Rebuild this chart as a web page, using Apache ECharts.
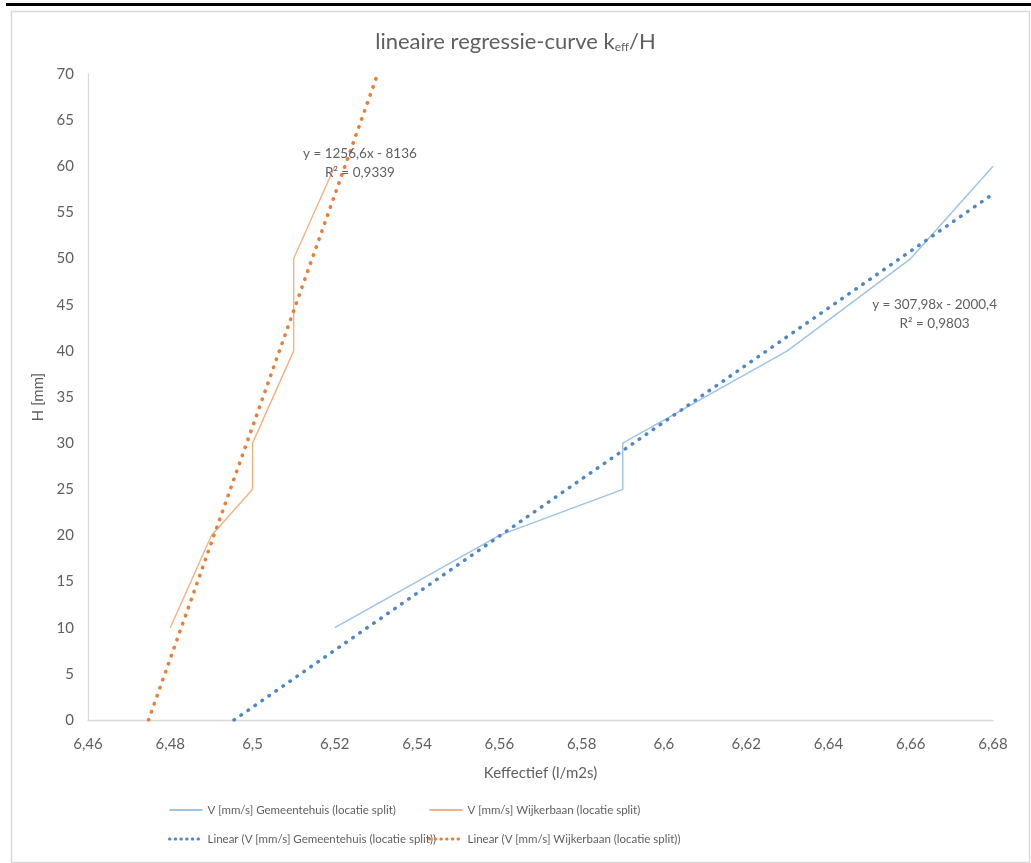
<!DOCTYPE html>
<html>
<head>
<meta charset="utf-8">
<script src="https://cdn.jsdelivr.net/npm/echarts@6/dist/echarts.min.js"></script>
<style>
html,body{margin:0;padding:0;background:#fff;}
#chart{width:1031px;height:863px;}
</style>
</head>
<body>
<div id="chart"></div>
<script>
// ---- data ----
const gemeentehuis = [[6.52,10],[6.54,15],[6.56,20],[6.59,25],[6.59,30],[6.63,40],[6.66,50],[6.68,60]];
const wijkerbaan   = [[6.48,10],[6.49,20],[6.50,25],[6.50,30],[6.51,40],[6.51,50],[6.52,60]];
// trendline end points as drawn in the reference
const trendGemeentehuis = [[6.4955,0],[6.68,57]];
const trendWijkerbaan   = [[6.4747,0],[6.5304,70]];
// trendline label texts and their anchor positions (data space)
const eqGemeentehuis = ['y = 307,98x - 2000,4', 'R² = 0,9803'];
const eqGemeentehuisAt = [6.6658, 44.0];
const eqWijkerbaan = ['y = 1256,6x - 8136', 'R² = 0,9339'];
const eqWijkerbaanAt = [6.5261, 60.3];

const names = [
  'V [mm/s] Gemeentehuis (locatie split)',
  'V [mm/s] Wijkerbaan (locatie split)',
  'Linear (V [mm/s] Gemeentehuis (locatie split))',
  'Linear (V [mm/s] Wijkerbaan (locatie split))'
];

const FONT = 'Lato, "Open Sans", sans-serif';
const TXT = '#5f5f5f';

const chart = echarts.init(document.getElementById('chart'), null, {renderer:'canvas'});

function eqLabel(lines){
  return {
    show: true,
    formatter: lines.join('\n'),
    color: TXT,
    fontFamily: FONT,
    fontSize: 13.5,
    lineHeight: 19,
    align: 'center',
    verticalAlign: 'middle',
    position: 'inside'
  };
}

const dotted = (color) => ({color: color, width: 3.5, type: [0.5, 8], cap: 'round'});
const legendDots = {type: [0.5, 5.2], width: 3, cap: 'round'};

const legendBase = {
  orient: 'vertical',
  top: 804,
  padding: 0,
  itemWidth: 33, itemHeight: 14, itemGap: 17,
  itemStyle: {opacity: 0},
  textStyle: {color: TXT, fontFamily: FONT, fontSize: 11.5}
};

chart.setOption({
  animation: false,
  backgroundColor: '#fff',
  title: {
    text: '{a|lineaire regressie-curve k}{s|eff}{a|/H}',
    left: 'center',
    top: 26,
    textStyle: {
      fontWeight: 'normal',
      rich: {
        a: {fontFamily: FONT, fontSize: 22, color: TXT, fontWeight: 'normal'},
        s: {fontFamily: FONT, fontSize: 12, color: TXT, fontWeight: 'normal', verticalAlign: 'bottom', padding:[8,0,0,0]}
      }
    }
  },
  graphic: [
    {type:'rect', left:9, top:9, shape:{width:1018, height:851}, style:{fill:'none', stroke:'#d9d9d9', lineWidth:1.5}, silent:true, z:-1},
    {type:'rect', left:6, top:3, shape:{width:1025, height:3}, style:{fill:'#000'}, silent:true}
  ],
  legend: [
    Object.assign({}, legendBase, {data: [names[0], {name: names[2], lineStyle: legendDots}], left: 168}),
    Object.assign({}, legendBase, {data: [names[1], {name: names[3], lineStyle: legendDots}], left: 428})
  ],
  grid: {left: 88, right: 38, top: 74, bottom: 143, containLabel: false},
  xAxis: {
    type: 'value',
    min: 6.46, max: 6.68, interval: 0.02,
    name: 'Keffectief (l/m2s)',
    nameLocation: 'middle', nameGap: 46,
    nameTextStyle: {color: TXT, fontFamily: FONT, fontSize: 15},
    axisLine: {show: true, lineStyle: {color: '#d9d9d9', width: 1.3}},
    axisTick: {show: false},
    splitLine: {show: false},
    axisLabel: {
      color: TXT, fontFamily: FONT, fontSize: 15, margin: 17,
      formatter: v => Number(v.toFixed(2)).toString().replace('.', ',')
    }
  },
  yAxis: {
    type: 'value',
    min: 0, max: 70, interval: 5,
    name: 'H [mm]',
    nameLocation: 'middle', nameGap: 42,
    nameTextStyle: {color: TXT, fontFamily: FONT, fontSize: 15},
    axisLine: {show: true, lineStyle: {color: '#d9d9d9', width: 1.3}},
    axisTick: {show: false},
    splitLine: {show: false},
    axisLabel: {color: TXT, fontFamily: FONT, fontSize: 15, margin: 14}
  },
  series: [
    {
      name: names[0], type: 'line', data: gemeentehuis,
      showSymbol: false, symbol: 'none', symbolSize: 0,
      lineStyle: {color: '#9dc3e6', width: 1.4},
      itemStyle: {color: '#9dc3e6'}, z: 2
    },
    {
      name: names[1], type: 'line', data: wijkerbaan,
      showSymbol: false, symbol: 'none', symbolSize: 0,
      lineStyle: {color: '#f4b183', width: 1.4},
      itemStyle: {color: '#f4b183'}, z: 2
    },
    {
      name: names[2], type: 'line', data: trendGemeentehuis,
      showSymbol: false, symbol: 'none', symbolSize: 0,
      lineStyle: dotted('#4f86c6'),
      itemStyle: {color: '#4f86c6'}, z: 3,
      markPoint: {
        symbol: 'rect', symbolSize: 1, itemStyle: {color: 'rgba(0,0,0,0)'},
        silent: true,
        data: [{coord: eqGemeentehuisAt, label: eqLabel(eqGemeentehuis)}]
      }
    },
    {
      name: names[3], type: 'line', data: trendWijkerbaan,
      showSymbol: false, symbol: 'none', symbolSize: 0,
      lineStyle: dotted('#ed7d31'),
      itemStyle: {color: '#ed7d31'}, z: 3,
      markPoint: {
        symbol: 'rect', symbolSize: 1, itemStyle: {color: 'rgba(0,0,0,0)'},
        silent: true,
        data: [{coord: eqWijkerbaanAt, label: eqLabel(eqWijkerbaan)}]
      }
    }
  ]
});
</script>
</body>
</html>
